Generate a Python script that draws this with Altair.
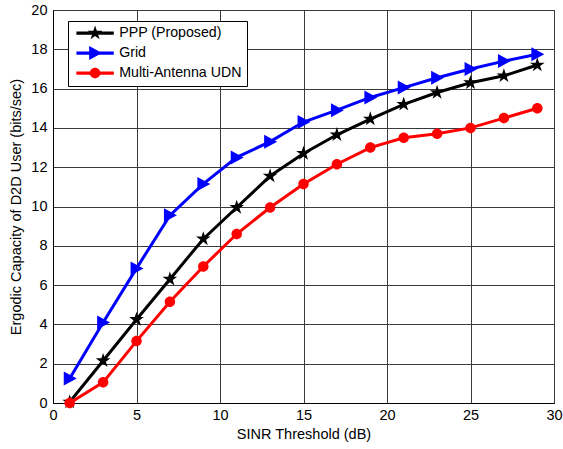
import altair as alt
import pandas as pd

# ---- data ----
x_vals = [1, 3, 5, 7, 9, 11, 13, 15, 17, 19, 21, 23, 25, 27, 29]
ppp = [0.05, 2.15, 4.25, 6.3, 8.35, 9.95, 11.55, 12.7, 13.65, 14.45, 15.2, 15.8, 16.3, 16.65, 17.2]
grid = [1.25, 4.1, 6.85, 9.55, 11.15, 12.5, 13.3, 14.3, 14.9, 15.55, 16.05, 16.55, 17.0, 17.4, 17.75]
udn = [0.0, 1.05, 3.15, 5.15, 6.95, 8.6, 9.95, 11.15, 12.15, 13.0, 13.5, 13.7, 14.0, 14.5, 15.0]

series_names = ["PPP (Proposed)", "Grid", "Multi-Antenna UDN"]
series_colors = ["#000000", "#0000ff", "#ff0000"]
x_ticks = [0, 5, 10, 15, 20, 25, 30]
y_ticks = [0, 2, 4, 6, 8, 10, 12, 14, 16, 18, 20]

rows = []
for name, vals in zip(series_names, [ppp, grid, udn]):
    for xv, yv in zip(x_vals, vals):
        rows.append({"x": xv, "y": yv, "series": name})
df = pd.DataFrame(rows)

# marker paths (unit coordinates, scaled by sqrt(size)/2)
star = ("M0,-1.1L0.247,-0.34L1.046,-0.34L0.4,0.13L0.647,0.89L0,0.42"
        "L-0.647,0.89L-0.4,0.13L-1.046,-0.34L-0.247,-0.34Z")
tri = "M-0.85,-1L1,0L-0.85,1Z"
circ = ("M0.75,0C0.75,0.414 0.414,0.75 0,0.75C-0.414,0.75 -0.75,0.414 -0.75,0"
        "C-0.75,-0.414 -0.414,-0.75 0,-0.75C0.414,-0.75 0.75,-0.414 0.75,0Z")
bar = "M-2.67,-0.22L2.67,-0.22L2.67,0.22L-2.67,0.22Z"
marker_paths = [star, tri, circ]
legend_paths = [bar + p for p in marker_paths]

FONT = "Liberation Sans"

xenc = alt.X("x:Q", scale=alt.Scale(domain=[0, 30], nice=False),
             axis=alt.Axis(values=x_ticks, title="SINR Threshold (dB)", labelFlush=False,
                           labelPadding=5, titlePadding=6))
yenc = alt.Y("y:Q", scale=alt.Scale(domain=[0, 20], nice=False),
             axis=alt.Axis(values=y_ticks, title="Ergodic Capacity of D2D User (bits/sec)",
                           labelFlush=False, labelPadding=6, titlePadding=7))

layers = []
for name, col, mpath in zip(series_names, series_colors, marker_paths):
    base = alt.Chart(df).transform_filter(alt.datum.series == name)
    layers.append(base.mark_line(strokeWidth=3, color=col).encode(x=xenc, y=yenc))
    layers.append(base.mark_point(filled=True, opacity=1, size=196, color=col).encode(
        x=xenc, y=yenc, shape=alt.value(mpath)))

legend_props = dict(
    title=None, orient="none", legendX=15, legendY=11,
    symbolSize=196, symbolStrokeWidth=0, symbolOffset=15, symbolOpacity=1,
    labelOffset=17, labelFontSize=14.2, labelFont=FONT, labelColor="black",
    padding=5, rowPadding=5, strokeColor="black", fillColor="white",
    cornerRadius=0, labelLimit=300,
)
legend_layer = alt.Chart(df).mark_point(filled=True, opacity=0, size=196).encode(
    x=xenc, y=yenc,
    color=alt.Color("series:N", scale=alt.Scale(domain=series_names, range=series_colors),
                    legend=alt.Legend(**legend_props)),
    shape=alt.Shape("series:N", scale=alt.Scale(domain=series_names, range=legend_paths),
                    legend=alt.Legend(**legend_props)),
)
layers.append(legend_layer)

chart = alt.layer(*layers).properties(
    width=501, height=393,
    background="white",
    autosize=alt.AutoSizeParams(type="none"),
    padding={"left": 53, "top": 10, "right": 9, "bottom": 46},
).configure_view(
    stroke="black", strokeWidth=1
).configure_axis(
    grid=True, gridColor="#3a3a3a", gridWidth=1, gridOpacity=1,
    domainColor="black", domainWidth=1, tickSize=0,
    labelFont=FONT, labelFontSize=14.5, labelColor="black",
    titleFont=FONT, titleFontSize=14.5, titleFontWeight="normal", titleColor="black",
)

chart.save("out.html", embed_options={"renderer": "svg", "actions": False})
